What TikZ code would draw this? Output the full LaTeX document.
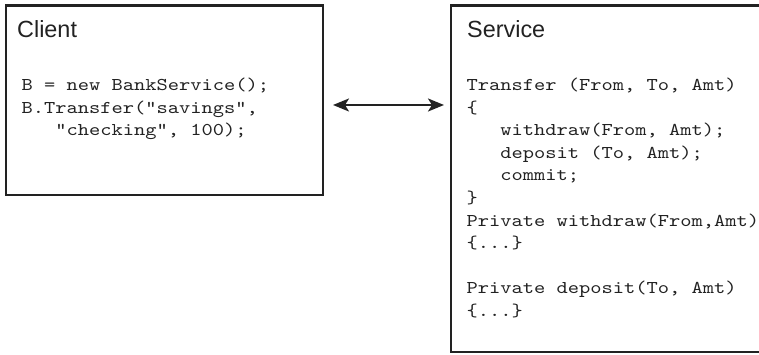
\documentclass[tikz,border=0pt]{standalone}
\usepackage{fontspec}
\setmainfont{Liberation Sans}
\setmonofont{lmmono10-regular}[Extension=.otf,FakeStretch=1.19]
\usepackage{tikz}
\usetikzlibrary{arrows.meta,positioning}
\definecolor{ink}{HTML}{222222}
\newcommand{\ind}{\phantom{xxx}}
\tikzset{
  panelbox/.style={draw=ink,line width=2.6pt,inner sep=0pt,outer sep=0pt},
  paneltitle/.style={inner sep=0pt,anchor=base west,text=ink,
    font=\fontsize{23.4}{28}\selectfont},
  % base anchor of a listing sits on its last line
  codetext/.style={inner sep=0pt,anchor=base west,align=left,text=ink,
    font=\ttfamily\fontsize{18}{22.6}\selectfont},
  linkarrow/.style={{Stealth[length=16pt,width=13pt,inset=4pt]}-{Stealth[length=16pt,width=13pt,inset=4pt]},
    line width=2pt,draw=ink}
}

\begin{document}
\begin{tikzpicture}[x=1pt,y=1pt]
\useasboundingbox (0,0) rectangle (759,355);
\clip (0,0) rectangle (759,355);
% the two panels
\node[panelbox,minimum width=317pt,minimum height=189.5pt] (client) at (164.5,254.75) {};
\node[panelbox,minimum width=339pt,minimum height=346.5pt] (service) at (620.5,176.25) {};
% titles
\node[paneltitle] (clienttitle) at ([shift={(11,-32)}]client.north west) {Client};
\node[paneltitle] (servicetitle) at ([shift={(16,-32.5)}]service.north west) {Service};
% code listings (first baseline 85 below the top edge)
\node[codetext] (clientcode) at ([shift={(15.5,-130.2)}]client.north west)
  {B = new BankService();\\
   B.Transfer(”savings”,\\
   \ind“checking”, 100);};
\node[codetext] (servicecode) at ([shift={(15.5,-311)}]service.north west)
  {Transfer (From, To, Amt)\\
   \{\\
   \ind withdraw(From, Amt);\\
   \ind deposit (To, Amt);\\
   \ind commit;\\
   \}\\
   Private withdraw(From,Amt)\\
   \{...\}\\
   \mbox{}\\
   Private deposit(To, Amt)\\
   \{...\}};
% call between client and service
\draw[linkarrow,shorten >=7pt] ([shift={(10,-4.75)}]client.east) -- ([shift={(0,-4.75)}]client.east -| service.west);
\end{tikzpicture}
\end{document}
